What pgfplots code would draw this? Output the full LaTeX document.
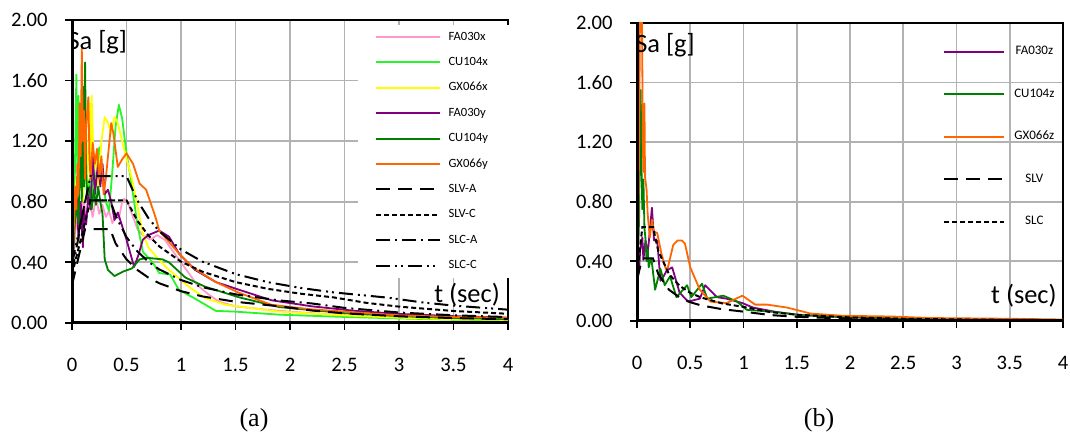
\documentclass[border=0pt]{standalone}
\usepackage{fontspec}
\setmainfont{Carlito}
\newfontfamily\capfont{Liberation Serif}
\usepackage{pgfplots}
\pgfplotsset{compat=1.18}

\definecolor{mypink}{RGB}{255,153,204}
\definecolor{mybgreen}{RGB}{40,245,40}
\definecolor{myyellow}{RGB}{255,255,0}
\definecolor{mypurple}{RGB}{128,0,128}
\definecolor{mydgreen}{RGB}{0,128,0}
\definecolor{myorange}{RGB}{255,102,0}

\pgfplotsset{
  spec/.style={
    scale only axis, xmin=0, xmax=4, ymin=0, ymax=2,
    xtick={0,0.5,1,1.5,2,2.5,3,3.5,4},
    xticklabels={0,0.5,1,1.5,2,2.5,3,3.5,4},
    ytick={0,0.4,0.8,1.2,1.6,2},
    yticklabels={0.00,0.40,0.80,1.20,1.60,2.00},
    grid=major, major grid style={color=black!30, line width=0.9pt},
    axis line style={line width=0.9pt},
    tick align=outside, major tick length=3.5pt, tick style={black, line width=0.9pt},
    xtick pos=bottom, ytick pos=left,
    ticklabel style={font=\fontsize{10.3}{12}\selectfont},
    yticklabel style={anchor=east, inner sep=0pt, xshift=-8.5pt},
    xticklabel style={anchor=center, inner sep=0pt, yshift=-17.5pt},
    /pgf/number format/assume math mode=true,
  },
  col/.style={color=#1, line width=0.9pt, line join=round},
  slvA/.style={color=black, line width=1pt, dash pattern=on 7pt off 4pt},
  slvC/.style={color=black, line width=1pt, dash pattern=on 2.5pt off 1.5pt},
  slcA/.style={color=black, line width=1pt, dash pattern=on 7pt off 2.5pt on 1pt off 2.5pt},
  slcC/.style={color=black, line width=1pt, dash pattern=on 7pt off 2.5pt on 1pt off 2pt on 1pt off 2.5pt},
}

\begin{document}
\begin{tikzpicture}
\path[use as bounding box] (0,0) rectangle (535pt,216.5pt);

% ---------------- (a) ----------------
\begin{axis}[spec, name=A, at={(36pt,55pt)}, anchor=south west,
  width=218pt, height=151.5pt,
  legend style={at={(0.656,0.9855)}, anchor=north west, fill=white, draw=none,
    inner xsep=8.5pt, inner ysep=3.5pt, row sep=7.3pt,
    font=\fontsize{6.3}{7.5}\selectfont,
    nodes={inner xsep=3.5pt, inner ysep=0pt, text width=18.5pt, text height=4.2pt, text depth=1.2pt}},
  legend image code/.code={\draw[#1, line width=1.05pt] (0pt,0.1pt) -- (32pt,0.1pt);},
]
\addplot[col=mypink] coordinates {(0,0.25)(0.03,0.6)(0.06,0.78)(0.08,0.7)(0.1,0.82)(0.13,0.72)(0.16,0.8)(0.19,0.7)(0.22,0.83)(0.25,0.72)(0.28,0.78)(0.31,0.7)(0.34,0.74)(0.37,0.66)(0.40,0.70)(0.43,0.69)(0.46,0.80)(0.48,0.82)(0.52,0.78)(0.56,0.70)(0.60,0.62)(0.65,0.58)(0.72,0.55)(0.78,0.58)(0.85,0.55)(0.95,0.45)(1.05,0.35)(1.15,0.25)(1.25,0.19)(1.35,0.14)(1.5,0.11)(1.75,0.09)(2.0,0.075)(2.5,0.05)(3.0,0.035)(3.5,0.025)(4.0,0.02)};
\addlegendentry{FA030x}
\addplot[col=mybgreen] coordinates {(0,0.3)(0.02,0.7)(0.04,1.64)(0.05,1.0)(0.06,1.5)(0.07,0.9)(0.08,1.35)(0.1,0.85)(0.12,1.1)(0.14,0.8)(0.16,0.95)(0.18,0.75)(0.2,1.05)(0.22,0.9)(0.25,1.16)(0.28,0.95)(0.31,0.8)(0.34,0.74)(0.37,1.0)(0.40,1.3)(0.43,1.44)(0.46,1.35)(0.5,1.12)(0.54,0.95)(0.6,0.65)(0.65,0.47)(0.74,0.40)(0.8,0.33)(0.9,0.32)(0.98,0.22)(1.13,0.16)(1.32,0.08)(1.5,0.075)(1.9,0.055)(2.5,0.04)(3,0.03)(3.5,0.022)(4,0.018)};
\addlegendentry{CU104x}
\addplot[col=myyellow] coordinates {(0,0.3)(0.02,0.7)(0.04,0.95)(0.06,0.75)(0.08,1.2)(0.10,0.8)(0.12,1.3)(0.14,0.9)(0.16,1.45)(0.17,1.0)(0.18,1.5)(0.2,1.0)(0.22,1.1)(0.24,0.9)(0.27,1.2)(0.3,1.36)(0.33,1.32)(0.36,1.25)(0.39,1.36)(0.42,1.32)(0.48,1.14)(0.55,0.95)(0.6,0.77)(0.65,0.59)(0.7,0.50)(0.77,0.44)(0.86,0.37)(1.07,0.24)(1.22,0.165)(1.41,0.12)(1.9,0.075)(2.5,0.05)(3,0.035)(3.5,0.025)(4,0.02)};
\addlegendentry{GX066x}
\addplot[col=mypurple] coordinates {(0,0.3)(0.02,0.6)(0.04,0.9)(0.06,0.55)(0.08,0.8)(0.1,0.5)(0.11,0.75)(0.13,0.65)(0.15,0.85)(0.17,0.75)(0.19,1.12)(0.21,0.85)(0.24,1.06)(0.26,0.9)(0.28,1.05)(0.3,0.85)(0.33,0.88)(0.36,0.8)(0.39,0.68)(0.42,0.73)(0.5,0.55)(0.57,0.37)(0.61,0.45)(0.65,0.55)(0.7,0.58)(0.8,0.61)(0.89,0.57)(0.98,0.46)(1.13,0.35)(1.32,0.27)(1.53,0.22)(1.83,0.15)(2.2,0.11)(2.6,0.08)(3,0.06)(3.5,0.045)(4,0.035)};
\addlegendentry{FA030y}
\addplot[col=mydgreen] coordinates {(0,0.3)(0.02,0.6)(0.04,0.8)(0.06,0.65)(0.08,1.3)(0.09,0.8)(0.10,1.56)(0.11,0.9)(0.12,1.72)(0.13,1.0)(0.14,0.85)(0.16,0.9)(0.18,0.75)(0.2,0.88)(0.22,0.78)(0.24,0.9)(0.26,0.8)(0.28,0.72)(0.3,0.42)(0.33,0.35)(0.39,0.31)(0.47,0.34)(0.55,0.36)(0.62,0.42)(0.69,0.43)(0.83,0.42)(0.89,0.40)(1.04,0.30)(1.22,0.24)(1.53,0.17)(1.9,0.105)(2.5,0.065)(3,0.045)(3.5,0.033)(4,0.025)};
\addlegendentry{CU104y}
\addplot[col=myorange] coordinates {(0,0.3)(0.02,0.7)(0.03,0.9)(0.04,0.75)(0.05,1.05)(0.06,0.85)(0.07,1.45)(0.08,1.1)(0.09,1.81)(0.1,1.2)(0.11,1.4)(0.12,0.95)(0.13,1.3)(0.15,1.49)(0.16,1.1)(0.17,0.95)(0.19,1.19)(0.21,1.05)(0.23,1.15)(0.25,0.95)(0.27,1.1)(0.29,0.85)(0.31,0.95)(0.33,1.1)(0.36,1.32)(0.38,1.25)(0.42,1.03)(0.46,1.08)(0.5,1.12)(0.56,1.05)(0.62,0.92)(0.68,0.88)(0.77,0.69)(0.8,0.61)(0.98,0.46)(1.1,0.37)(1.32,0.27)(1.53,0.20)(1.83,0.12)(2.2,0.09)(2.5,0.075)(3,0.05)(3.5,0.04)(4,0.035)};
\addlegendentry{GX066y}
\addplot[slvA] coordinates {(0,0.25)(0.12,0.62)(0.35,0.62)(0.4,0.525)(0.5,0.42)(0.6,0.35)(0.7,0.30)(0.8,0.2625)(1.0,0.21)(1.2,0.175)(1.5,0.14)(1.9,0.1105)(2.2,0.0825)(2.5,0.0637)(3.0,0.0442)(3.5,0.0325)(4.0,0.0249)};
\addlegendentry{SLV-A}
\addplot[slvC] coordinates {(0,0.32)(0.17,0.81)(0.5,0.81)(0.6,0.675)(0.7,0.579)(0.8,0.506)(1.0,0.405)(1.2,0.3375)(1.5,0.27)(1.8,0.225)(2.1,0.193)(2.4,0.169)(2.7,0.133)(3.0,0.108)(3.5,0.0793)(4.0,0.0608)};
\addlegendentry{SLV-C}
\addplot[slcA] coordinates {(0,0.33)(0.12,0.81)(0.35,0.81)(0.4,0.709)(0.5,0.567)(0.6,0.4725)(0.7,0.405)(0.8,0.354)(1.0,0.2835)(1.2,0.236)(1.5,0.189)(1.9,0.149)(2.2,0.129)(2.5,0.0998)(3.0,0.0693)(3.5,0.0509)(4.0,0.039)};
\addlegendentry{SLC-A}
\addplot[slcC] coordinates {(0,0.39)(0.17,0.97)(0.5,0.97)(0.6,0.808)(0.7,0.693)(0.8,0.606)(1.0,0.485)(1.2,0.404)(1.5,0.323)(1.8,0.269)(2.1,0.231)(2.4,0.202)(2.9,0.167)(3.2,0.137)(3.5,0.1148)(4.0,0.0879)};
\addlegendentry{SLC-C}
\node[anchor=north west, inner sep=0pt, font=\fontsize{13.2}{15}\selectfont] at (rel axis cs:-0.011,0.967) {Sa [g]};
\node[anchor=south east, inner sep=0pt, font=\fontsize{13.2}{15}\selectfont] at (rel axis cs:0.982,0.053) {t (sec)};
\end{axis}
\draw[line width=1.5pt] (A.north west) -- (A.south west) -- (A.south east);

% ---------------- (b) ----------------
\begin{axis}[spec, name=B, at={(318.5pt,56pt)}, anchor=south west,
  width=213pt, height=149pt,
  legend style={at={(0.718,0.925)}, anchor=north west, fill=none, draw=none,
    inner sep=0pt, row sep=15.25pt,
    font=\fontsize{6.5}{7.8}\selectfont,
    nodes={inner xsep=4.5pt, inner ysep=0pt, text height=4.6pt, text depth=1.4pt}},
  legend image code/.code={\draw[#1] (0pt,0pt) -- (30pt,0pt);},
]
\addplot[col=mypurple] coordinates {(0,0.25)(0.02,0.35)(0.03,0.48)(0.05,0.56)(0.06,0.41)(0.08,0.54)(0.1,0.45)(0.12,0.6)(0.14,0.76)(0.16,0.54)(0.19,0.54)(0.22,0.27)(0.25,0.3)(0.28,0.34)(0.33,0.36)(0.40,0.19)(0.48,0.13)(0.59,0.15)(0.64,0.24)(0.75,0.16)(0.84,0.15)(0.99,0.12)(1.09,0.09)(1.31,0.06)(1.53,0.04)(2,0.025)(2.5,0.015)(3,0.01)(4,0.006)};
\addlegendentry{FA030z}
\addplot[col=mydgreen] coordinates {(0,0.3)(0.01,0.45)(0.02,0.7)(0.025,1.3)(0.03,1.0)(0.035,1.55)(0.04,1.1)(0.05,0.75)(0.06,0.95)(0.07,0.62)(0.08,0.55)(0.09,0.4)(0.1,0.48)(0.11,0.36)(0.13,0.42)(0.14,0.39)(0.17,0.21)(0.22,0.35)(0.26,0.24)(0.31,0.30)(0.37,0.16)(0.47,0.24)(0.51,0.16)(0.61,0.25)(0.66,0.15)(0.81,0.17)(0.94,0.13)(1.03,0.075)(1.31,0.06)(1.53,0.04)(2,0.025)(2.5,0.015)(3,0.01)(4,0.005)};
\addlegendentry{CU104z}
\addplot[col=myorange] coordinates {(0,0.3)(0.01,0.5)(0.02,1.2)(0.03,2.3)(0.045,2.2)(0.055,1.2)(0.06,1.0)(0.07,1.46)(0.075,0.97)(0.09,0.88)(0.1,0.72)(0.12,0.56)(0.14,0.68)(0.16,0.6)(0.19,0.59)(0.23,0.45)(0.27,0.35)(0.29,0.36)(0.34,0.51)(0.38,0.54)(0.42,0.54)(0.45,0.52)(0.5,0.36)(0.59,0.21)(0.69,0.13)(0.84,0.12)(0.99,0.17)(1.11,0.11)(1.22,0.11)(1.41,0.09)(1.63,0.05)(1.93,0.035)(2.4,0.03)(2.75,0.02)(3.5,0.015)(4,0.01)};
\addlegendentry{GX066z}
\addplot[slvA] coordinates {(0,0.28)(0.05,0.42)(0.15,0.42)(0.2,0.315)(0.3,0.21)(0.4,0.158)(0.5,0.126)(0.6,0.105)(0.8,0.079)(1.0,0.063)(1.25,0.040)(1.5,0.028)(2,0.016)(2.5,0.010)(3,0.007)(3.5,0.005)(4,0.004)};
\addlegendentry{SLV}
\addplot[slvC] coordinates {(0,0.3)(0.05,0.63)(0.15,0.63)(0.2,0.47)(0.3,0.315)(0.4,0.236)(0.5,0.189)(0.6,0.158)(0.8,0.118)(1,0.0945)(1.25,0.06)(1.5,0.042)(2,0.024)(2.5,0.015)(3,0.0105)(3.5,0.0077)(4,0.006)};
\addlegendentry{SLC}
\node[anchor=north west, inner sep=0pt, font=\fontsize{13.2}{15}\selectfont] at (rel axis cs:-0.005,0.966) {Sa [g]};
\node[anchor=south east, inner sep=0pt, font=\fontsize{13.2}{15}\selectfont] at (rel axis cs:0.986,0.044) {t (sec)};
\end{axis}
\draw[line width=1.5pt] (B.north west) -- (B.south west) -- (B.south east);

\node[font=\capfont\fontsize{13}{15}\selectfont, anchor=base] at (127pt,3pt) {(a)};
\node[font=\capfont\fontsize{13}{15}\selectfont, anchor=base] at (409.5pt,3pt) {(b)};
\end{tikzpicture}
\end{document}
